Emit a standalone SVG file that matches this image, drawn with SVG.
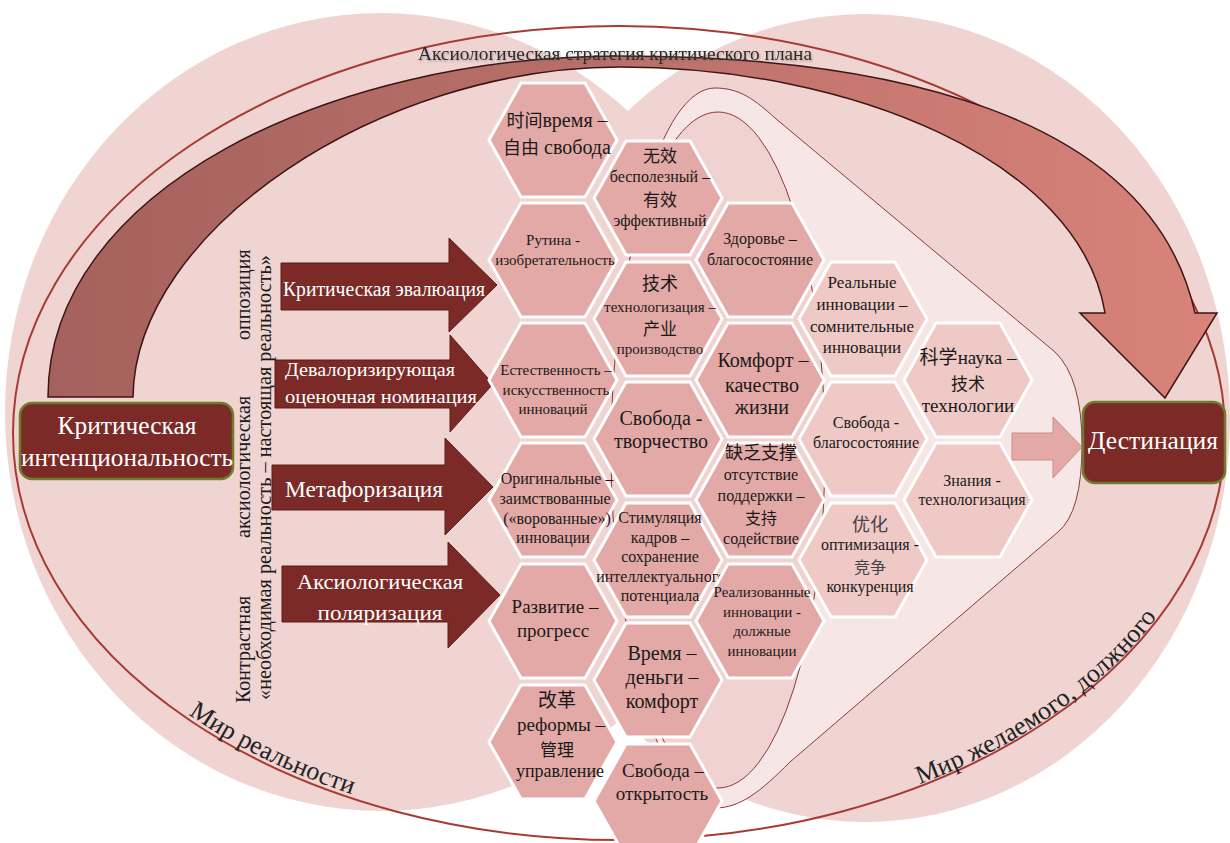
<svg xmlns="http://www.w3.org/2000/svg" width="1230" height="843" viewBox="0 0 1230 843">
<defs>
<linearGradient id="gArc" gradientUnits="userSpaceOnUse" x1="48" y1="0" x2="1217" y2="0">
<stop offset="0" stop-color="#a5615d"/><stop offset="0.45" stop-color="#b86f69"/><stop offset="1" stop-color="#d9837a"/>
</linearGradient>
<filter id="sh" x="-5%" y="-30%" width="110%" height="160%">
<feDropShadow dx="1" dy="1.5" stdDeviation="1" flood-color="#7a6a6a" flood-opacity="0.55"/>
</filter>
<path id="pLeft" d="M 17,433 A 602 403 0 0 0 619 836"/>
<path id="pRight" d="M 619,838 A 604 405 0 0 0 1223 433"/>
</defs>
<style>
.hx{fill:#e3a9a6;stroke:#fff;stroke-width:3}
.hx2{fill:#efc9c6;stroke:#fff;stroke-width:3}
.t{font-family:"Liberation Serif",serif;fill:#1a1a1a;text-anchor:middle}
.c{font-family:"Noto Sans CJK SC",sans-serif}
.w{font-family:"Liberation Serif",serif;fill:#fff;text-anchor:middle}
.v{font-family:"Liberation Serif",serif;fill:#1a1a1a}
.blk{fill:#7b2a27;stroke:#5c1d1b;stroke-width:1}
.box{fill:#7b2a27;stroke:#6e7d2b;stroke-width:2.5}
.lbl{font-family:"Liberation Serif",serif;fill:#222}
</style>

<g id="background">
<ellipse cx="381" cy="412" rx="376" ry="399" fill="#f0d4d2"/>
<ellipse cx="865" cy="418" rx="365" ry="404" fill="#f0d4d2"/>
<ellipse cx="619" cy="433" rx="606" ry="407" fill="none" stroke="#a83a33" stroke-width="2"/>
<path d="M715,88 C740,88 755,100 775,118 L1055,352 Q1082,378 1082,445 Q1082,512 1058,532 L790,762 C760,792 740,808 715,808 A100 360 0 0 1 715 88 Z" fill="#f6e6e5" stroke="#8b3b37" stroke-width="1"/>
<ellipse cx="718" cy="450" rx="107" ry="338" fill="#f0d3d1" stroke="#8b3b37" stroke-width="1"/>
</g>

<g id="strategy-arrow">
<path d="M48,397 C48,190 330,56 620,56 C880,56 1150,110 1195,313 L1217,313 L1165,398 L1080,313 L1105,313 C1080,160 850,67 620,67 C380,67 135,230 133,397 Z" fill="url(#gArc)" stroke="#3d1513" stroke-width="1.5"/>
<text x="418" y="60" font-family="Liberation Serif, serif" font-size="19" fill="#2a2a2a" textLength="394" lengthAdjust="spacingAndGlyphs" filter="url(#sh)">Аксиологическая стратегия критического плана</text>
</g>

<g id="world-labels">
<text class="lbl" font-size="26"><textPath href="#pLeft" startOffset="343">Мир реальности</textPath></text>
<text class="lbl" font-size="26"><textPath href="#pRight" startOffset="307">Мир желаемого, должного</textPath></text>
</g>

<g id="vertical-labels">
<text class="v" font-size="20" transform="translate(250,340) rotate(-90)">оппозиция</text>
<text class="v" font-size="20" transform="translate(250,538) rotate(-90)">аксиологическая</text>
<text class="v" font-size="20" transform="translate(250,703) rotate(-90)">Контрастная</text>
<text class="v" font-size="20" transform="translate(271,700) rotate(-90)" textLength="445" lengthAdjust="spacingAndGlyphs">«необходимая реальность – настоящая реальность»</text>
</g>

<g id="connectors">
<g id="arrow-evaluation">
<polygon class="blk" points="281,263 449,263 449,238 497,285 449,332 449,310 281,310"/>
<text class="w" x="384" y="296" font-size="20" textLength="202" lengthAdjust="spacingAndGlyphs">Критическая эвалюация</text>
</g>
<g id="arrow-devaluation">
<polygon class="blk" points="275,360 450,360 450,335 493,384 450,432 450,408 275,408"/>
<text class="w" x="370" y="376" font-size="19" textLength="170" lengthAdjust="spacingAndGlyphs">Девалоризирующая</text>
<text class="w" x="381" y="403" font-size="19" textLength="192" lengthAdjust="spacingAndGlyphs">оценочная номинация</text>
</g>
<g id="arrow-metaphor">
<polygon class="blk" points="272,465 445,465 445,438 493,487 445,535 445,510 272,510"/>
<text class="w" x="364" y="497" font-size="23" textLength="158" lengthAdjust="spacingAndGlyphs">Метафоризация</text>
</g>
<g id="arrow-polarization">
<polygon class="blk" points="282,566 448,566 448,542 500,595 448,648 448,622 282,622"/>
<text class="w" x="380" y="589" font-size="22" textLength="166" lengthAdjust="spacingAndGlyphs">Аксиологическая</text>
<text class="w" x="380" y="620" font-size="22" textLength="125" lengthAdjust="spacingAndGlyphs">поляризация</text>
</g>
<g id="arrow-destination">
<polygon points="1012,433 1053,433 1053,417 1082,447 1053,478 1053,460 1012,460" fill="#e3a9a6" stroke="#c98d8a" stroke-width="1"/>
</g>
</g>

<g id="node-intentionality">
<rect class="box" x="20" y="403" width="213" height="76" rx="12"/>
<text class="w" x="127" y="434" font-size="25" textLength="139" lengthAdjust="spacingAndGlyphs">Критическая</text>
<text class="w" x="127" y="466" font-size="25" textLength="212" lengthAdjust="spacingAndGlyphs">интенциональность</text>
</g>

<g id="node-destination">
<rect class="box" x="1083" y="402" width="142" height="81" rx="12"/>
<text class="w" x="1153" y="449" font-size="25" textLength="130" lengthAdjust="spacingAndGlyphs">Дестинация</text>
</g>

<g id="hex-time-freedom">
<polygon class="hx" points="489,140 521,83 585,83 617,140 585,197 521,197"/>
<text class="t" x="557" y="127" font-size="20"><tspan class="c" font-size="18">时间</tspan>время –</text>
<text class="t" x="557" y="154" font-size="20"><tspan class="c" font-size="18">自由</tspan> свобода</text>
</g>
<g id="hex-routine">
<polygon class="hx" points="489,260 521,203 585,203 617,260 585,317 521,317"/>
<text class="t" x="553" y="245" font-size="15">Рутина -</text>
<text class="t" x="555" y="265" font-size="15">изобретательность</text>
</g>
<g id="hex-naturalness">
<polygon class="hx" points="489,380 521,323 585,323 617,380 585,437 521,437"/>
<text class="t" x="556" y="375" font-size="15">Естественность –</text>
<text class="t" x="556" y="395" font-size="15">искусственность</text>
<text class="t" x="553" y="414" font-size="15">инноваций</text>
</g>
<g id="hex-original">
<polygon class="hx" points="489,500 521,443 585,443 617,500 585,557 521,557"/>
<text class="t" x="557" y="484" font-size="16">Оригинальные –</text>
<text class="t" x="555" y="504" font-size="16">заимствованные</text>
<text class="t" x="557" y="524" font-size="16">(«ворованные»)</text>
<text class="t" x="553" y="543" font-size="16">инновации</text>
</g>
<g id="hex-development">
<polygon class="hx" points="489,621 521,564 585,564 617,621 585,678 521,678"/>
<text class="t" x="555" y="613" font-size="19">Развитие –</text>
<text class="t" x="553" y="637" font-size="19">прогресс</text>
</g>
<g id="hex-reforms">
<polygon class="hx" points="489,742 521,685 585,685 617,742 585,799 521,799"/>
<text class="t c" x="557" y="707" font-size="19">改革</text>
<text class="t" x="561" y="731" font-size="19">реформы –</text>
<text class="t c" x="557" y="756" font-size="17">管理</text>
<text class="t" x="560" y="777" font-size="18">управление</text>
</g>

<g id="hex-useless">
<polygon class="hx" points="594,198 626,141 690,141 722,198 690,255 626,255"/>
<text class="t c" x="660" y="162" font-size="17">无效</text>
<text class="t" x="660" y="182" font-size="16">бесполезный –</text>
<text class="t c" x="660" y="206" font-size="17">有效</text>
<text class="t" x="660" y="226" font-size="16">эффективный</text>
</g>
<g id="hex-technology">
<polygon class="hx" points="594,319 626,262 690,262 722,319 690,376 626,376"/>
<text class="t c" x="660" y="290" font-size="18">技术</text>
<text class="t" x="660" y="312" font-size="15">технологизация –</text>
<text class="t c" x="660" y="335" font-size="17">产业</text>
<text class="t" x="660" y="354" font-size="15">производство</text>
</g>
<g id="hex-freedom-creativity">
<polygon class="hx" points="594,439 626,382 690,382 722,439 690,496 626,496"/>
<text class="t" x="661" y="425" font-size="20">Свобода -</text>
<text class="t" x="661" y="448" font-size="20">творчество</text>
</g>
<g id="hex-staff">
<polygon class="hx" points="594,560 626,503 690,503 722,560 690,617 626,617"/>
<text class="t" x="660" y="523" font-size="16">Стимуляция</text>
<text class="t" x="660" y="543" font-size="16">кадров –</text>
<text class="t" x="660" y="562" font-size="16">сохранение</text>
<text class="t" x="661" y="582" font-size="16">интеллектуального</text>
<text class="t" x="660" y="601" font-size="16">потенциала</text>
</g>
<g id="hex-time-money">
<polygon class="hx" points="594,680 626,623 690,623 722,680 690,737 626,737"/>
<text class="t" x="662" y="660" font-size="20">Время –</text>
<text class="t" x="662" y="684" font-size="20">деньги –</text>
<text class="t" x="662" y="708" font-size="20">комфорт</text>
</g>
<g id="hex-freedom-openness">
<polygon class="hx" points="594,801 626,744 690,744 722,801 690,858 626,858"/>
<text class="t" x="663" y="777" font-size="19">Свобода –</text>
<text class="t" x="662" y="800" font-size="19">открытость</text>
</g>

<g id="hex-health">
<polygon class="hx" points="696,260 728,203 792,203 824,260 792,317 728,317"/>
<text class="t" x="760" y="244" font-size="16">Здоровье –</text>
<text class="t" x="760" y="265" font-size="16">благосостояние</text>
</g>
<g id="hex-comfort">
<polygon class="hx" points="696,380 728,323 792,323 824,380 792,437 728,437"/>
<text class="t" x="763" y="367" font-size="20">Комфорт –</text>
<text class="t" x="762" y="392" font-size="20">качество</text>
<text class="t" x="762" y="414" font-size="20">жизни</text>
</g>
<g id="hex-support">
<polygon class="hx" points="696,500 728,443 792,443 824,500 792,557 728,557"/>
<text class="t c" x="761" y="459" font-size="18">缺乏支撑</text>
<text class="t" x="761" y="480" font-size="16">отсутствие</text>
<text class="t" x="761" y="501" font-size="16">поддержки –</text>
<text class="t c" x="761" y="524" font-size="16">支持</text>
<text class="t" x="761" y="544" font-size="16">содействие</text>
</g>
<g id="hex-realized">
<polygon class="hx" points="696,621 728,564 792,564 824,621 792,678 728,678"/>
<text class="t" x="762" y="597" font-size="15">Реализованные</text>
<text class="t" x="762" y="617" font-size="15">инновации -</text>
<text class="t" x="762" y="636" font-size="15">должные</text>
<text class="t" x="762" y="656" font-size="15">инновации</text>
</g>

<g id="hex-real-innovations">
<polygon class="hx2" points="799,319 831,262 895,262 927,319 895,376 831,376"/>
<text class="t" x="862" y="288" font-size="17">Реальные</text>
<text class="t" x="862" y="310" font-size="17">инновации  –</text>
<text class="t" x="862" y="332" font-size="17">сомнительные</text>
<text class="t" x="862" y="353" font-size="17">инновации</text>
</g>
<g id="hex-freedom-wellbeing">
<polygon class="hx2" points="799,439 831,382 895,382 927,439 895,496 831,496"/>
<text class="t" x="866" y="428" font-size="16">Свобода -</text>
<text class="t" x="866" y="448" font-size="16">благосостояние</text>
</g>
<g id="hex-optimization">
<polygon class="hx2" points="799,560 831,503 895,503 927,560 895,617 831,617"/>
<text class="t c" x="870" y="531" font-size="18" style="fill:#444">优化</text>
<text class="t" x="870" y="550" font-size="16">оптимизация -</text>
<text class="t c" x="870" y="573" font-size="16" style="fill:#444">竞争</text>
<text class="t" x="870" y="592" font-size="16">конкуренция</text>
</g>

<g id="hex-science">
<polygon class="hx2" points="904,380 936,323 1000,323 1032,380 1000,437 936,437"/>
<text class="t" x="968" y="364" font-size="19"><tspan class="c">科学</tspan>наука –</text>
<text class="t c" x="968" y="390" font-size="17">技术</text>
<text class="t" x="968" y="412" font-size="19">технологии</text>
</g>
<g id="hex-knowledge">
<polygon class="hx2" points="904,500 936,443 1000,443 1032,500 1000,557 936,557"/>
<text class="t" x="972" y="486" font-size="16">Знания -</text>
<text class="t" x="972" y="505" font-size="16">технологизация</text>
</g>
</svg>
